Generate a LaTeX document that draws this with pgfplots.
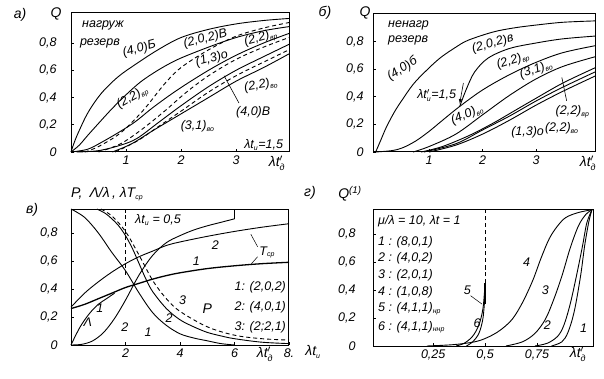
\documentclass[border=0pt]{standalone}
\usepackage{fontspec}
\setmainfont{Liberation Sans}
\usepackage{pgfplots}
\pgfplotsset{compat=1.18}
\newcommand{\sub}[1]{$_{\mbox{\scriptsize\itshape #1}}$}
\newcommand{\ltd}{λt$'_{\mbox{\small\itshape д}}$}
\pgfplotsset{
  panel/.style={scale only axis, clip=false, anchor=south west,
    axis line style={line width=1pt}, tick align=inside, major tick length=3pt,
    tick style={line width=0.6pt, black}, tick pos=left,
    ticklabel style={font=\fontsize{12.5}{14}\selectfont\itshape},
    /pgf/number format/assume math mode=true},
}
\tikzset{
  cv/.style={black, line width=0.9pt, smooth, tension=0.55, mark=none},
  dcv/.style={cv, dash pattern=on 4pt off 3pt},
  lbl/.style={font=\fontsize{12.5}{14}\selectfont\itshape, inner sep=0pt},
  big/.style={font=\fontsize{14}{16}\selectfont\itshape, inner sep=0pt},
}
\begin{document}
\begin{tikzpicture}
\path[use as bounding box] (0pt,0pt) rectangle (604pt,378pt);
% ---------- panel a ----------
\begin{axis}[panel, at={(71pt,226pt)}, width=218pt, height=139pt,
  xmin=0, xmax=3.96, ymin=0, ymax=1.02,
  xtick={1,2,3}, xticklabels={1,2,3},
  ytick={0,0.2,0.4,0.6,0.8}, yticklabels={0,{0,2},{0,4},{0,6},{0,8}},
  yticklabel style={xshift=-11pt}]
\addplot[cv] coordinates {(0,0)(0.05,0.06)(0.13,0.14)(0.31,0.29)(0.55,0.43)(0.85,0.55)(1.16,0.64)(1.58,0.75)(2,0.84)(2.5,0.9)(3,0.94)(3.5,0.965)(3.96,0.98)};
\addplot[cv] coordinates {(0,0)(0.15,0.05)(0.3,0.12)(0.5,0.21)(0.75,0.32)(1.0,0.42)(1.25,0.51)(1.5,0.58)(1.75,0.64)(2,0.69)(2.5,0.77)(3,0.84)(3.5,0.89)(3.96,0.92)};
\addplot[dcv] coordinates {(0.25,0)(0.5,0.04)(0.9,0.14)(1.3,0.3)(1.7,0.5)(2,0.62)(2.5,0.75)(3,0.85)(3.5,0.91)(3.96,0.95)};
\addplot[cv] coordinates {(0,0)(0.3,0.02)(0.55,0.07)(0.85,0.14)(1.16,0.22)(1.5,0.33)(1.95,0.46)(2.5,0.6)(3,0.71)(3.5,0.8)(3.96,0.87)};
\addplot[dcv] coordinates {(0.5,0)(0.9,0.06)(1.3,0.17)(1.7,0.3)(2.1,0.44)(2.5,0.56)(3,0.68)(3.5,0.77)(3.96,0.84)};
\addplot[cv] coordinates {(0.1,0)(0.5,0.01)(0.9,0.05)(1.2,0.1)(1.6,0.22)(2,0.34)(2.5,0.48)(3,0.6)(3.5,0.7)(3.96,0.79)};
\addplot[dcv] coordinates {(0.8,0)(1.2,0.08)(1.6,0.19)(2,0.3)(2.5,0.44)(3,0.56)(3.5,0.66)(3.96,0.75)};
\addplot[cv] coordinates {(0.75,0)(1.1,0.06)(1.5,0.16)(2,0.28)(2.5,0.4)(3,0.52)(3.5,0.62)(3.96,0.72)};
\node[lbl, anchor=west] at (axis cs:0.2,0.93) {нагруж};
\node[lbl, anchor=west] at (axis cs:0.16,0.80) {резерв};
\node[lbl, rotate=15] at (axis cs:1.24,0.755) {(4,0)Б};
\node[lbl, rotate=14] at (axis cs:2.44,0.83) {(2,0,2)В};
\node[lbl, rotate=30] at (axis cs:1.12,0.40) {(2,2)\sub{вр}};
\node[lbl, rotate=15] at (axis cs:2.56,0.685) {(1,3)о};
\node[lbl, rotate=15] at (axis cs:3.45,0.835) {(2,2)\sub{вр}};
\node[lbl, rotate=10] at (axis cs:3.45,0.49) {(2,2)\sub{во}};
\node[lbl] at (axis cs:3.31,0.29) {(4,0)В};
\draw[line width=0.6pt] (axis cs:3.05,0.36) -- (axis cs:2.78,0.56);
\node[lbl] at (axis cs:2.3,0.19) {(3,1)\sub{во}};
\node[lbl] at (axis cs:3.5,0.05) {λt\sub{и}=1,5};
\end{axis}
\node[big] at (20pt,363pt) {а)};
\node[big] at (56pt,364pt) {Q};
\node[big] at (277pt,215pt) {\ltd};
% ---------- panel b ----------
\begin{axis}[panel, at={(373pt,226pt)}, width=222pt, height=138pt,
  xmin=-0.05, xmax=4.1, ymin=0, ymax=1.0,
  xtick={1,2,3}, xticklabels={1,2,3},
  ytick={0,0.2,0.4,0.6,0.8}, yticklabels={0,{0,2},{0,4},{0,6},{0,8}},
  yticklabel style={xshift=-6pt}]
\addplot[cv] coordinates {(0,0)(0.1,0.09)(0.2,0.18)(0.35,0.29)(0.5,0.38)(0.7,0.49)(0.92,0.58)(1.2,0.68)(1.5,0.76)(1.73,0.81)(2.2,0.87)(2.6,0.9)(3,0.92)(3.5,0.94)(4.1,0.95)};
\addplot[cv] coordinates {(1.57,0.33)(1.7,0.46)(1.85,0.58)(2.1,0.68)(2.5,0.75)(3,0.79)(3.5,0.82)(4.1,0.84)};
\addplot[cv] coordinates {(0,0)(0.3,0.01)(0.5,0.03)(0.75,0.08)(1,0.15)(1.25,0.23)(1.57,0.33)(2,0.45)(2.5,0.56)(3,0.65)(3.5,0.72)(4.1,0.77)};
\addplot[cv] coordinates {(0.7,0)(1,0.04)(1.5,0.13)(2,0.27)(2.5,0.41)(3,0.53)(3.5,0.62)(4.1,0.69)};
\addplot[cv] coordinates {(0.85,0)(1.25,0.04)(1.75,0.12)(2.2,0.21)(2.6,0.3)(3,0.39)(3.5,0.5)(4.1,0.61)};
\addplot[cv] coordinates {(0.9,0)(1.5,0.06)(2,0.16)(2.5,0.26)(3,0.37)(3.5,0.47)(4.1,0.58)};
\addplot[cv] coordinates {(1,0)(1.5,0.05)(2,0.13)(2.5,0.23)(3,0.34)(3.5,0.44)(4.1,0.55)};
\node[lbl, anchor=west] at (axis cs:0.23,0.92) {ненагр};
\node[lbl, anchor=west] at (axis cs:0.23,0.81) {резерв};
\node[lbl, rotate=33] at (axis cs:0.5,0.6) {(4,0)б};
\node[lbl] at (axis cs:1.14,0.41) {λt$'_{\mbox{\scriptsize\itshape и}}$=1,5};
\draw[line width=0.6pt, -latex] (axis cs:1.64,0.5) -- (axis cs:1.57,0.35);
\node[lbl, rotate=15] at (axis cs:2.19,0.785) {(2,0,2)в};
\node[lbl, rotate=18] at (axis cs:2.57,0.66) {(2,2)\sub{вр}};
\node[lbl, rotate=22] at (axis cs:1.71,0.27) {(4,0)\sub{во}};
\node[lbl, rotate=18] at (axis cs:3.0,0.595) {(3,1)\sub{во}};
\node[lbl] at (axis cs:3.68,0.29) {(2,2)\sub{вр}};
\draw[line width=0.6pt] (axis cs:3.48,0.54) -- (axis cs:3.57,0.37);
\node[lbl] at (axis cs:3.48,0.17) {(2,2)\sub{во}};
\node[lbl] at (axis cs:2.84,0.14) {(1,3)о};
\end{axis}
\node[big] at (325pt,365pt) {б)};
\node[big] at (365pt,365pt) {Q};
\node[big] at (588pt,215pt) {\ltd};
% ---------- panel v ----------
\begin{axis}[panel, at={(71pt,33pt)}, width=218pt, height=136pt,
  xmin=0, xmax=8, ymin=0, ymax=0.97,
  xtick={2,4,6,8}, xticklabels={2,4,6,8.},
  ytick={0,0.2,0.4,0.6,0.8}, yticklabels={0,{0,2},{0,4},{0,6},{0,8}},
  yticklabel style={xshift=-10pt}]
\addplot[cv] coordinates {(0,0.97)(0.5,0.91)(1,0.8)(1.5,0.66)(2,0.53)(2.5,0.37)(3,0.23)(3.5,0.14)(4,0.08)(4.5,0.05)(5,0.03)(5.5,0.01)(6,0)};
\addplot[cv] coordinates {(0.95,0.97)(1.25,0.94)(1.5,0.9)(1.75,0.85)(2,0.78)(2.25,0.69)(2.5,0.58)(2.75,0.47)(3,0.38)(3.5,0.26)(4,0.18)(4.5,0.13)(5,0.09)(5.5,0.065)(6,0.045)(7,0.02)(8,0.01)};
\addplot[dcv] coordinates {(1.1,0.97)(1.5,0.92)(2,0.81)(2.5,0.64)(3,0.46)(3.5,0.33)(4,0.24)(5,0.13)(6,0.07)(7,0.045)(8,0.035)};
\addplot[cv, line width=1.3pt] coordinates {(0,0.26)(0.5,0.29)(1,0.33)(1.5,0.37)(2,0.41)(2.5,0.44)(3,0.47)(3.5,0.495)(4,0.515)(5,0.545)(6,0.565)(7,0.58)(8,0.59)};
\addplot[cv] coordinates {(0,0.27)(0.5,0.37)(1,0.45)(1.5,0.52)(2,0.58)(2.5,0.63)(3,0.67)(3.5,0.71)(4,0.735)(5,0.775)(6,0.81)(7,0.84)(8,0.865)};
\addplot[cv] coordinates {(0,0)(0.2,0.08)(0.4,0.15)(0.7,0.23)(1,0.29)(1.3,0.33)(1.6,0.37)};
\addplot[cv] coordinates {(0,0)(0.4,0.005)(0.8,0.03)(1.2,0.09)(1.6,0.19)(2,0.32)(2.5,0.5)(3,0.64)(3.5,0.73)(4,0.78)(4.5,0.82)(5,0.85)(5.5,0.875)(6,0.9)};
\addplot[cv, smooth=false] coordinates {(6,0.9)(6,0.97)};
\addplot[dcv, smooth=false] coordinates {(2,0.5)(2,0.97)};
\node[lbl, anchor=west] at (axis cs:2.35,0.89) {λt\sub{и} = 0,5};
\node[lbl] at (axis cs:5.3,0.71) {2};
\node[lbl] at (axis cs:7.2,0.66) {T\sub{ср}};
\draw[line width=0.5pt] (axis cs:6.85,0.7) -- (axis cs:6.6,0.79);
\draw[line width=0.5pt] (axis cs:6.85,0.63) -- (axis cs:6.6,0.575);
\node[lbl] at (axis cs:4.6,0.6) {1};
\node[lbl, anchor=west] at (axis cs:6.0,0.41) {1: (2,0,2)};
\node[lbl, anchor=west] at (axis cs:6.0,0.27) {2: (4,0,1)};
\node[lbl, anchor=west] at (axis cs:6.0,0.13) {3: (2;2,1)};
\node[big] at (axis cs:5.0,0.26) {P};
\node[lbl] at (axis cs:4.1,0.32) {3};
\node[lbl] at (axis cs:3.6,0.19) {2};
\node[lbl] at (axis cs:2.83,0.09) {1};
\node[lbl] at (axis cs:1.98,0.13) {2};
\node[lbl] at (axis cs:1.06,0.26) {1};
\node[lbl] at (axis cs:0.62,0.16) {Λ};
\end{axis}
\node[big] at (32pt,168pt) {в)};
\node[big, anchor=west] at (71pt,184pt) {P,\enspace Λ/λ\,, λT\sub{ср}};
\node[big] at (265pt,24pt) {\ltd};
\node[big] at (313pt,26pt) {λt\sub{и}};
% ---------- panel g ----------
\begin{axis}[panel, at={(373pt,32pt)}, width=220pt, height=137pt,
  xmin=-0.04, xmax=1.02, ymin=0, ymax=0.98,
  xtick={0.25,0.5,0.75}, xticklabels={{0,25},{0,5},{0,75}},
  ytick={0,0.2,0.4,0.6,0.8}, yticklabels={0,{0,2},{0,4},{0,6},{0,8}},
  yticklabel style={xshift=-14pt}]
\addplot[cv] coordinates {(0.22,0)(0.35,0.01)(0.45,0.03)(0.51,0.06)(0.57,0.11)(0.63,0.19)(0.68,0.31)(0.73,0.47)(0.77,0.63)(0.81,0.77)(0.85,0.86)(0.89,0.92)(0.95,0.955)(1.015,0.975)};
\addplot[cv] coordinates {(0.6,0)(0.68,0.03)(0.74,0.09)(0.79,0.19)(0.83,0.33)(0.87,0.5)(0.91,0.7)(0.95,0.86)(0.985,0.94)(1.015,0.975)};
\addplot[cv] coordinates {(0.74,0)(0.8,0.02)(0.85,0.07)(0.88,0.15)(0.91,0.3)(0.94,0.5)(0.97,0.72)(0.99,0.88)(1.015,0.975)};
\addplot[cv] coordinates {(0.82,0)(0.87,0.03)(0.9,0.1)(0.93,0.25)(0.96,0.5)(0.98,0.72)(1.0,0.89)(1.015,0.975)};
\addplot[cv] coordinates {(0.36,0)(0.4,0.02)(0.44,0.07)(0.47,0.15)(0.49,0.27)(0.5,0.45)};
\addplot[cv] coordinates {(0.41,0)(0.44,0.03)(0.47,0.09)(0.49,0.2)(0.5,0.38)};
\addplot[cv, smooth=false, line width=1.6pt] coordinates {(0.5,0.3)(0.5,0.45)};
\addplot[dcv, smooth=false] coordinates {(0.5,0.45)(0.5,0.98)};
\node[lbl, anchor=west] at (axis cs:-0.016,0.89) {μ/λ = 10, λt = 1};
\node[lbl, anchor=west] at (axis cs:-0.016,0.745) {1 : (8,0,1)};
\node[lbl, anchor=west] at (axis cs:-0.016,0.625) {2 : (4,0,2)};
\node[lbl, anchor=west] at (axis cs:-0.016,0.505) {3 : (2,0,1)};
\node[lbl, anchor=west] at (axis cs:-0.016,0.385) {4 : (1,0,8)};
\node[lbl, anchor=west] at (axis cs:-0.016,0.265) {5 : (4,1,1)\sub{нр}};
\node[lbl, anchor=west] at (axis cs:-0.016,0.135) {6 : (4,1,1)\sub{ннр}};
\node[lbl] at (axis cs:0.70,0.6) {4};
\node[lbl] at (axis cs:0.79,0.40) {3};
\node[lbl] at (axis cs:0.80,0.15) {2};
\node[lbl] at (axis cs:0.975,0.13) {1};
\node[lbl] at (axis cs:0.415,0.4) {5};
\draw[line width=0.5pt] (axis cs:0.43,0.36) -- (axis cs:0.485,0.3);
\node[lbl] at (axis cs:0.462,0.165) {6};
\end{axis}
\node[big] at (310pt,185pt) {г)};
\node[big] at (350pt,184pt) {Q\textsuperscript{(1)}};
\node[big] at (578pt,24pt) {\ltd};
\end{tikzpicture}
\end{document}
